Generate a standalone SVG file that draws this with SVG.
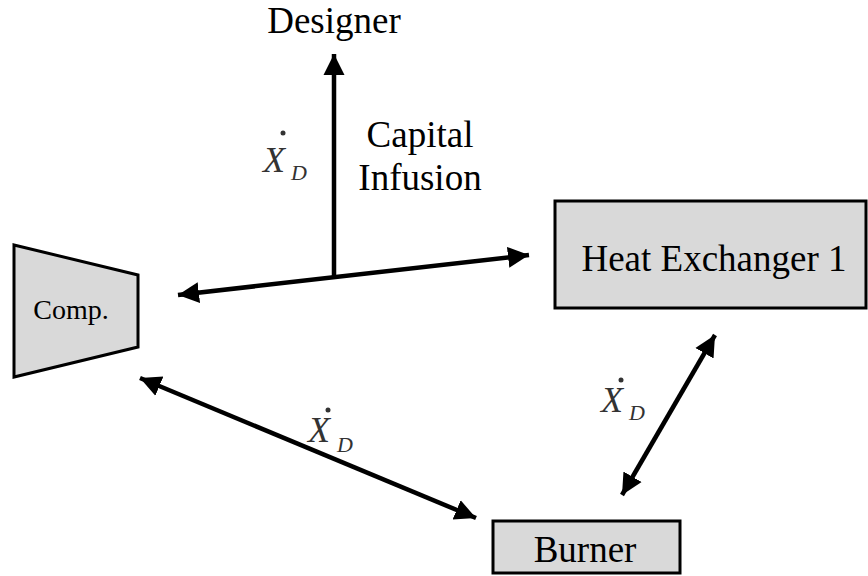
<svg xmlns="http://www.w3.org/2000/svg" width="868" height="576" viewBox="0 0 868 576">
<style>
.node{fill:#d9d9d9;stroke:#000;stroke-width:3}
.t{font-family:"Liberation Serif","Times New Roman",serif;font-size:37px;fill:#000}
.x{font-family:"Liberation Serif","Times New Roman",serif;font-style:italic;fill:#333}
.c{stroke:#000;stroke-width:4.5;fill:none}
</style>
<defs>
<marker id="ah" markerUnits="userSpaceOnUse" markerWidth="24" markerHeight="24" refX="21" refY="10.5" orient="auto-start-reverse" viewBox="0 0 24 21">
<path d="M0,0 L21,10.5 L0,21 z" fill="#000"/>
</marker>
</defs>
<g id="designer"><text class="t" x="334" y="33" text-anchor="middle">Designer</text></g>
<g id="comp"><polygon class="node" points="14,245 138,275 138,347 14,377"/><text class="t" x="71" y="319" text-anchor="middle" style="font-size:28px">Comp.</text></g>
<g id="hx1"><rect class="node" x="555" y="201" width="311" height="107"/><text class="t" x="714" y="271" text-anchor="middle">Heat Exchanger 1</text></g>
<g id="burner"><rect class="node" x="493" y="521" width="187" height="52"/><text class="t" x="585" y="562" text-anchor="middle">Burner</text></g>
<g id="connectors">
<line class="c" x1="178" y1="295" x2="529" y2="255" marker-start="url(#ah)" marker-end="url(#ah)"/>
<line class="c" x1="334" y1="277" x2="334" y2="54" marker-end="url(#ah)"/>
<line class="c" x1="140" y1="378" x2="476" y2="518" marker-start="url(#ah)" marker-end="url(#ah)"/>
<line class="c" x1="715" y1="335" x2="622" y2="495" marker-start="url(#ah)" marker-end="url(#ah)"/>
</g>
<g id="labels">
<text class="t" x="420" y="147" text-anchor="middle">Capital</text>
<text class="t" x="420" y="190" text-anchor="middle">Infusion</text>
<g><text class="x" x="263" y="172" font-size="36">X</text><text class="x" x="291" y="180" font-size="22">D</text><circle cx="283" cy="133" r="2.5" fill="#333"/></g>
<g><text class="x" x="308" y="442" font-size="36">X</text><text class="x" x="337" y="452" font-size="22">D</text><circle cx="328" cy="410" r="2.5" fill="#333"/></g>
<g><text class="x" x="601" y="412" font-size="36">X</text><text class="x" x="629" y="420" font-size="22">D</text><circle cx="621" cy="380" r="2.5" fill="#333"/></g>
</g>
</svg>
